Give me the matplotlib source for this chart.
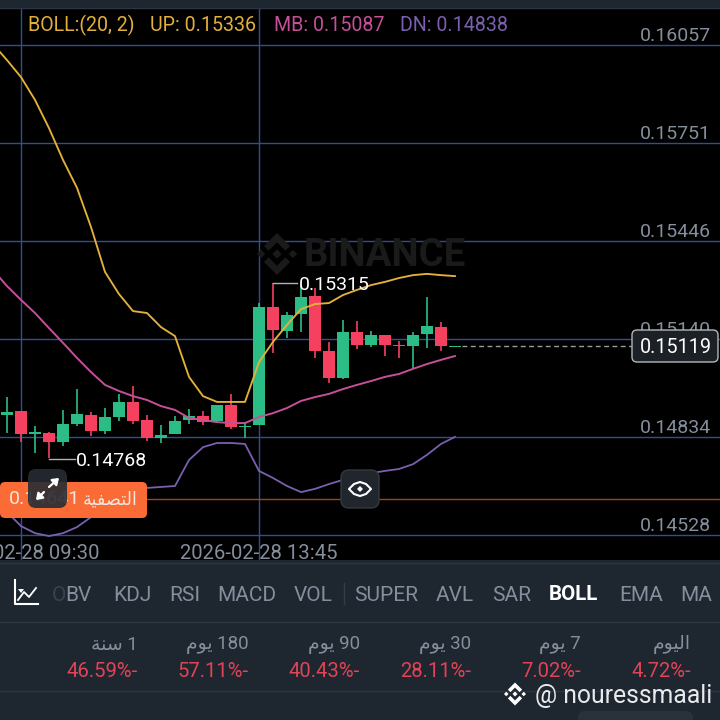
import matplotlib
matplotlib.use("Agg")
import matplotlib.pyplot as plt
from matplotlib.patches import FancyBboxPatch, Polygon

plt.rcParams['font.family'] = ['Roboto', 'DejaVu Sans']

# ---------- data (prices) ----------
opens = [.14902,.14916,.14844,.14848,.14820,.14875,.14904,.14853,.14898,.14943,.14888,
         .14832,.14843,.14887,.14899,.14884,.14935,.14866,.14871,.15239,.15166,.15218,
         .15274,.15103,.15018,.15162,.15122,.15152,.15120,.15119,.15156,.15178,.15116]
closes = [.14914,.14844,.14850,.14820,.14875,.14905,.14853,.14898,.14944,.14885,.14832,
          .14842,.14884,.14899,.14882,.14935,.14866,.14869,.15239,.15168,.15215,.15272,
          .15104,.15018,.15163,.15122,.15152,.15122,.15117,.15152,.15180,.15119,.15119]
highs = [.14960,.14916,.14870,.14850,.14918,.14983,.14912,.14925,.14969,.14994,.14903,
         .14872,.14900,.14921,.14917,.14935,.14969,.14880,.15253,.15315,.15225,.15308,
         .15298,.15130,.15199,.15196,.15165,.15152,.15134,.15161,.15270,.15193,.15119]
lows = [.14847,.14820,.14785,.14768,.14807,.14870,.14839,.14844,.14885,.14875,.14823,
        .14815,.14843,.14875,.14871,.14881,.14860,.14832,.14871,.15095,.15144,.15163,
        .15082,.15004,.15016,.15108,.15114,.15087,.15081,.15051,.15112,.15103,.15116]
boll_up = [.16059,.16009,.15956,.15885,.15797,.15698,.15611,.15489,.15349,.15280,.15227,.15221,
           .15177,.15149,.15022,.14962,.14944,.14944,.14944,.15068,.15131,.15184,.15233,.15249,
           .15252,.15277,.15293,.15308,.15318,.15330,.15339,.15343,.15339,.15336]
boll_mb = [.15355,.15305,.15262,.15221,.15174,.15128,.15081,.15037,.14997,.14978,.14962,.14950,
           .14931,.14919,.14894,.14888,.14881,.14878,.14878,.14897,.14909,.14925,.14947,.14959,
           .14969,.14984,.14997,.15009,.15022,.15031,.15047,.15062,.15075,.15087]
boll_dn = [.14654,.14601,.14557,.14535,.14526,.14535,.14554,.14585,.14617,.14648,.14666,.14676,
           .14679,.14682,.14763,.14803,.14816,.14816,.14813,.14729,.14707,.14682,.14663,.14673,
           .14688,.14701,.14710,.14722,.14729,.14735,.14750,.14779,.14813,.14835]
y_ticks = [0.16057, 0.15751, 0.15446, 0.15140, 0.14834, 0.14528]
y_tick_labels = ["0.16057", "0.15751", "0.15446", "0.15140", "0.14834", "0.14528"]
time_positions = [1, 18]
time_labels = ["2026-02-28 09:30", "2026-02-28 13:45"]
last_price = 0.15119
liq_price = 0.14641
high_mark = 0.15315
low_mark = 0.14768
tabs = ["OBV", "KDJ", "RSI", "MACD", "VOL", "SUPER", "AVL", "SAR", "BOLL", "EMA", "MA"]
# Arabic in presentation forms, in visual order (matplotlib does no shaping)
YAWM = "\uFEE1\uFEEE\uFEF3"
periods = ["\uFE94\uFEE8\uFEB3 1", YAWM + " 180", YAWM + " 90", YAWM + " 30", YAWM + " 7",
           "\uFEE1\uFEEE\uFEF4\uFEDF\uFE8D"]
changes = ["46.59%-", "57.11%-", "40.43%-", "28.11%-", "7.02%-", "4.72%-"]
LIQ = "\uFE94\uFEF4\uFED4\uFEBC\uFE98\uFEDF\uFE8D"

BG = "#1e2630"; GRID = "#2e4e98"; TICK = "#848e9c"
GREEN = "#2bbd85"; RED = "#f6405f"
C_UP = "#e4b03c"; C_MB = "#c64f9a"; C_DN = "#7a60ae"

fig = plt.figure(figsize=(7.2, 7.2), dpi=100, facecolor=BG)

# ---------- price chart ----------
ax = fig.add_axes([0, 160/720, 1, 552/720], facecolor="black")
ax.set_xlim(-0.5, 50.93)
ax.set_ylim(0.144514, 0.161714)
for s in ax.spines.values():
    s.set_visible(False)
ax.set_xticks([]); ax.set_yticks([])
for t in y_ticks:
    ax.axhline(t, color=GRID, lw=1.0, zorder=1)
for t in time_positions:
    ax.axvline(t, color=GRID, lw=1.0, zorder=1)
ax.axhline(liq_price, color="#a0431f", lw=1.0, zorder=1)
n = len(opens)
for i in range(n):
    c = GREEN if closes[i] >= opens[i] else RED
    ax.vlines(i, lows[i], highs[i], color=c, lw=1.2, zorder=2)
    ax.bar(i, abs(closes[i]-opens[i]), bottom=min(opens[i], closes[i]), width=0.88,
           color=c, zorder=3, linewidth=0)
xs = list(range(-1, n))
ax.plot(xs, boll_up, color=C_UP, lw=1.35, zorder=4)
ax.plot(xs, boll_mb, color=C_MB, lw=1.4, zorder=4)
ax.plot(xs, boll_dn, color=C_DN, lw=1.3, zorder=4)
ax.plot([n-0.5, 44.7], [last_price, last_price], color="#9a9a9a", lw=1, ls=(0, (3.5, 2.5)), zorder=2)

# ---------- overlay in pixel coordinates ----------
ui = fig.add_axes([0, 0, 1, 1], facecolor="none")
ui.set_xlim(0, 720); ui.set_ylim(720, 0); ui.axis("off")

def logo(cx, cy, s, color, alpha=1.0, z=1):
    def diamond(x, y, r):
        ui.add_patch(Polygon([(x, y-r), (x+r, y), (x, y+r), (x-r, y)], fc=color, ec="none", alpha=alpha, zorder=z))
    def chev(sign):
        ui.add_patch(Polygon([(cx, cy+sign*1.0*s), (cx+.62*s, cy+sign*.38*s), (cx+.40*s, cy+sign*.16*s),
                              (cx, cy+sign*.56*s), (cx-.40*s, cy+sign*.16*s), (cx-.62*s, cy+sign*.38*s)],
                             fc=color, ec="none", alpha=alpha, zorder=z))
    diamond(cx, cy, .22*s); diamond(cx-.76*s, cy, .2*s); diamond(cx+.76*s, cy, .2*s)
    chev(-1); chev(1)

logo(277, 254, 21, "#1a1a1a")
ui.text(384.5, 255.5, "BINANCE", color="#1a1a1a", fontsize=27.6, fontweight="bold", ha="center", va="center", zorder=1)

for t, lab in zip(y_ticks, y_tick_labels):
    py = 339 - (t - 0.15140) / 3.116e-5
    ui.text(711, py - 9, lab, color=TICK, fontsize=14, ha="right", va="center", zorder=2)
for t, lab in zip(time_positions, time_labels):
    ui.text(7 + 14*t, 553.5, lab, color=TICK, fontsize=14.6, ha="center", va="center", zorder=2)

# legend
ui.text(28, 25.5, "BOLL:(20, 2)", color=C_UP, fontsize=14.1, va="center")
ui.text(150, 25.5, "UP: 0.15336", color=C_UP, fontsize=14.1, va="center")
ui.text(274, 25.5, "MB: 0.15087", color=C_MB, fontsize=14.1, va="center")
ui.text(400, 25.5, "DN: 0.14838", color=C_DN, fontsize=14.1, va="center")

# high / low marks
ui.plot([273, 297], [283, 283], color="#b0b0b0", lw=1, zorder=5)
ui.text(299, 285.5, f"{high_mark:.5f}", color="white", fontsize=14, va="center", zorder=6)
ui.plot([49, 75], [459, 459], color="#b0b0b0", lw=1, zorder=5)
ui.text(76, 460.5, f"{low_mark:.5f}", color="white", fontsize=14, va="center", zorder=6)

# last-price box
ui.add_patch(FancyBboxPatch((632, 330), 86, 32, boxstyle="round,pad=0,rounding_size=5",
                            fc="#1c2127", ec="#b5b5b5", lw=1, zorder=5))
ui.text(676, 347.5, f"{last_price:.5f}", color="white", fontsize=14.2, ha="center", va="center", zorder=6)

# liquidation label
ui.add_patch(FancyBboxPatch((0, 482), 147, 36, boxstyle="round,pad=0,rounding_size=5",
                            fc="#fb6b35", ec="none", zorder=5))
ui.text(9, 499.5, f"{liq_price:.5f}", color="#f5e6dc", fontsize=14, va="center", zorder=6)
ui.text(138, 499, LIQ, color="#f5e6dc", fontsize=12.7, ha="right", va="center", zorder=6)

# expand button
ui.add_patch(FancyBboxPatch((28, 469), 39, 39, boxstyle="round,pad=0,rounding_size=8",
                            fc="#262c33", ec="none", alpha=0.9, zorder=7))
for (a, b, c, d) in [(49, 487, 59, 478), (44, 492, 36, 500)]:
    ui.annotate("", xy=(c, d), xytext=(a, b), zorder=8,
                arrowprops=dict(arrowstyle="-|>,head_width=0.25,head_length=0.35", color="white", lw=1.6, shrinkA=0, shrinkB=0))

# eye button
ui.add_patch(FancyBboxPatch((341, 470), 38, 38, boxstyle="round,pad=0,rounding_size=8",
                            fc="#20262b", ec="#33393f", lw=1, zorder=7))
ui.add_patch(Polygon([(349, 489), (354, 484), (360, 482), (366, 484), (371, 489), (366, 494), (360, 496), (354, 494)],
                     fc="none", ec="white", lw=1.5, zorder=8, joinstyle="round"))
ui.add_patch(Polygon([(360, 486), (363, 489), (360, 492), (357, 489)], fc="white", ec="none", zorder=8))

# ---------- bottom panel ----------
for y in [8, 563, 622, 691]:
    ui.plot([0, 720], [y, y], color="#2d3540", lw=1, zorder=2)
ui.plot([344, 344], [583, 604], color="#343c47", lw=1, zorder=2)
ui.plot([15, 15, 38], [580, 604, 604], color="white", lw=1.5, zorder=3)
ui.plot([18, 24, 29, 36], [600, 592, 597, 588], color="white", lw=1.3, zorder=3)
ui.add_patch(Polygon([(18, 589), (24, 589), (21, 593)], fc="white", ec="none", zorder=3))

tab_left = [52, 113, 169, 217, 294, 354, 436, 492, 549, 619, 680]
for lab, x in zip(tabs, tab_left):
    if lab == "BOLL":
        ui.text(x, 594, lab, color="white", fontsize=14.8, fontweight="bold", va="center", zorder=3)
    elif lab == "OBV":
        ui.text(x, 595.5, lab[0], color="#3a424d", fontsize=15, va="center", zorder=3)
        ui.text(x + 13, 595.5, lab[1:], color=TICK, fontsize=15, va="center", zorder=3)
    else:
        ui.text(x, 595.5, lab, color=TICK, fontsize=15, va="center", zorder=3)

col_right = [138, 249, 360, 471, 581, 691]
for p, c, x in zip(periods, changes, col_right):
    ui.text(x, 645, p, color=TICK, fontsize=13.5, ha="right", va="center", zorder=3)
    ui.text(x, 671.5, c, color="#e04456", fontsize=14.6, ha="right", va="center", zorder=3)

logo(515, 694, 11.5, "white", z=4)
ui.text(535, 695.5, "@ nouressmaali", color="#e8eaec", fontsize=17.8, va="center", zorder=4)
ui.add_patch(FancyBboxPatch((578, 711), 115, 20, boxstyle="round,pad=0,rounding_size=7",
                            fc="#29313b", ec="none", zorder=2))

fig.savefig("out.png", dpi=100, facecolor=BG)
